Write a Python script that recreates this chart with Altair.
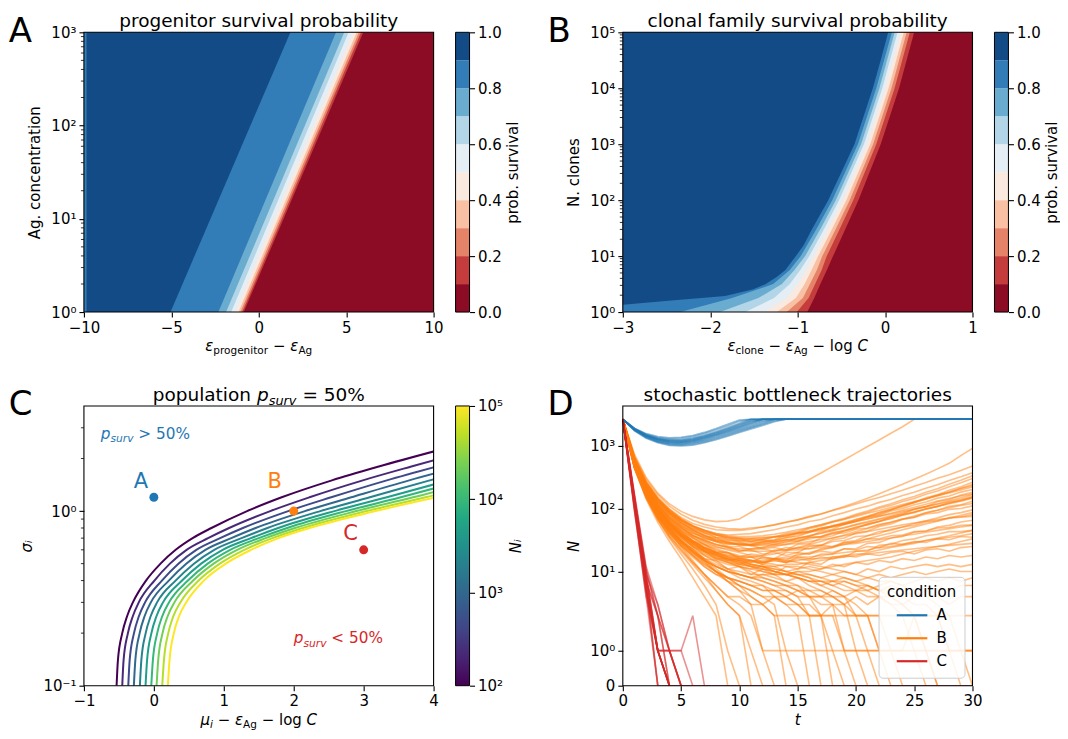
import altair as alt
import pandas as pd

FONT = "DejaVu Sans"
W, H = 350, 280
CB_GAP, CB_W, CB_W_C = 22, 14, 14
ONE = pd.DataFrame({"k": [0]})

# ---------------- colours ----------------
RDBU_BANDS = ["#8c0c25", "#c43c3c", "#e58368", "#f9c0a4", "#fae9df",
              "#e4eef4", "#b2d5e7", "#6aacd0", "#327cb7", "#134b86"]
VIRIDIS_STOPS = ["#440154", "#482475", "#414487", "#355f8d", "#2a788e", "#21918c",
                 "#22a884", "#44bf70", "#7ad151", "#bddf26", "#fde725"]
VIRIDIS_OFFSETS = [0.0, 0.1, 0.2, 0.3, 0.4, 0.5, 0.6, 0.7, 0.8, 0.9, 1.0]
CURVE_COLORS = ["#440154", "#482878", "#3e4a89", "#31688e", "#26828e",
                "#1f9e89", "#35b779", "#6ece58", "#b5de2b", "#fde725"]
COND = ["A", "B", "C"]
COND_COLORS = ["#1f77b4", "#ff7f0e", "#d62728"]

# ---------------- colour bar levels ----------------
CB_LO = [0.0, 0.1, 0.2, 0.3, 0.4, 0.5, 0.6, 0.7, 0.8, 0.9]
CB_HI = [0.1, 0.2, 0.3, 0.4, 0.5, 0.6, 0.7, 0.8, 0.9, 1.0]
CB_TICKS = [0.0, 0.2, 0.4, 0.6, 0.8, 1.0]

# ---------------- panel A: contour boundaries (straight in x vs log C) ----------------
A_LEVELS = [0.1, 0.2, 0.3, 0.4, 0.5, 0.6, 0.7, 0.8, 0.9]
A_CONC = [1, 1000]
A_X_LOW = [-0.86, -0.95, -1.05, -1.16, -1.34, -1.58, -1.87, -2.31, -5.05]
A_X_HIGH = [5.98, 5.85, 5.73, 5.60, 5.41, 5.14, 4.89, 4.42, 1.81]
A_STRIP_X = -9.85
A_MINOR = [2, 3, 4, 5, 6, 7, 8, 9, 20, 30, 40, 50, 60, 70, 80, 90,
           200, 300, 400, 500, 600, 700, 800, 900]

# ---------------- panel B: contour boundaries (x at log10 N) ----------------
B_LOGN = [0, 0.25, 0.5, 0.75, 1.0, 1.5, 2, 3, 4, 5]
B_X = {
    0.1: [-0.89, -0.81, -0.74, -0.665, -0.595, -0.45, -0.305, -0.05, 0.16, 0.333],
    0.2: [-1.01, -0.875, -0.80, -0.725, -0.667, -0.515, -0.364, -0.101, 0.109, 0.283],
    0.3: [-1.126, -0.94, -0.86, -0.78, -0.718, -0.56, -0.405, -0.137, 0.073, 0.247],
    0.4: [-1.24, -1.02, -0.92, -0.84, -0.765, -0.602, -0.443, -0.17, 0.04, 0.214],
    0.5: [-1.385, -1.12, -0.995, -0.90, -0.816, -0.648, -0.484, -0.206, 0.004, 0.179],
    0.6: [-1.60, -1.27, -1.09, -0.97, -0.867, -0.693, -0.526, -0.242, -0.032, 0.143],
    0.7: [-1.89, -1.45, -1.18, -1.036, -0.914, -0.735, -0.564, -0.275, -0.065, 0.11],
    0.8: [-2.345, -1.75, -1.28, -1.09, -0.965, -0.78, -0.605, -0.311, -0.101, 0.078],
}
B09_LOGN = [0, 0.13, 0.2, 0.287, 0.406, 0.5, 0.627, 0.75, 1.0, 1.2, 1.5, 2, 2.5, 3, 3.5, 4, 4.5, 5]
B09_X = [-3, -3, -2.48, -1.83, -1.507, -1.365, -1.24, -1.14, -1.02, -0.93, -0.83,
         -0.65, -0.50, -0.35, -0.245, -0.14, -0.05, 0.036]
B_MINOR = [2, 3, 4, 5, 6, 7, 8, 9, 20, 30, 40, 50, 60, 70, 80, 90,
           200, 300, 400, 500, 600, 700, 800, 900, 2000, 3000, 4000, 5000, 6000, 7000, 8000, 9000,
           20000, 30000, 40000, 50000, 60000, 70000, 80000, 90000]

# ---------------- panel C: p_surv = 50% curves ----------------
C_N_LEVELS = [100, 215, 464, 1000, 2154, 4642, 10000, 21544, 46416, 100000]
C_SIGMA = [0.1, 0.14, 0.2, 0.25, 0.3, 0.4, 0.5, 0.6, 0.7, 0.8, 1.0, 1.2, 1.5, 1.8, 2.2, 2.6]
C_X = [
    [-0.533, -0.514, -0.452, -0.383, -0.30, -0.112, 0.095, 0.312, 0.554, 0.823, 1.333, 1.828, 2.546, 3.217, 4.01, 4.7],
    [-0.452, -0.433, -0.371, -0.301, -0.216, 0.008, 0.230, 0.468, 0.775, 1.076, 1.664, 2.226, 2.988, 3.682, 4.478],
    [-0.366, -0.346, -0.284, -0.214, -0.126, 0.115, 0.351, 0.607, 0.947, 1.273, 1.921, 2.536, 3.331, 4.044],
    [-0.286, -0.265, -0.203, -0.133, -0.043, 0.214, 0.463, 0.737, 1.107, 1.455, 2.160, 2.823, 3.650, 4.379],
    [-0.200, -0.179, -0.117, -0.046, 0.046, 0.311, 0.573, 0.864, 1.254, 1.624, 2.380, 3.089, 3.945, 4.689],
    [-0.119, -0.097, -0.035, 0.037, 0.131, 0.403, 0.676, 0.984, 1.389, 1.778, 2.582, 3.332, 4.215],
    [-0.037, -0.014, 0.048, 0.120, 0.216, 0.487, 0.770, 1.092, 1.500, 1.905, 2.747, 3.531, 4.436],
    [0.039, 0.062, 0.124, 0.197, 0.294, 0.562, 0.855, 1.191, 1.598, 2.017, 2.894, 3.708, 4.632],
    [0.120, 0.144, 0.206, 0.279, 0.379, 0.641, 0.944, 1.293, 1.696, 2.130, 3.041, 3.885, 4.828],
    [0.2, 0.224, 0.286, 0.36, 0.462, 0.715, 1.028, 1.39, 1.782, 2.228, 3.17, 4.04],
]
C_PT_X = [0, 2, 3]
C_PT_Y = [1.2, 1.0, 0.6]
C_PT_LABEL = ["A", "B", "C"]
C_LBL_DX = [-13, -19, -13]
C_LBL_DY = [-15, -29, -16]
C_MINOR = [0.2, 0.3, 0.4, 0.5, 0.6, 0.7, 0.8, 0.9, 2, 3]
C_NOTE_HI = (-0.76, 2.59)
C_NOTE_LO = (2.0, 0.175)

# ---------------- panel D: trajectories ----------------
D_A = [
    [2600,1700,1300,1100,1000,980,1010,1100,1230,1400,1600,1830,2080,2370,2600,2600,2600,2600,2600,2600,2600,2600,2600,2600,2600,2600,2600,2600,2600,2600,2600],
    [2600,1750,1350,1150,1060,1040,1080,1180,1320,1500,1720,1970,2250,2550,2600,2600,2600,2600,2600,2600,2600,2600,2600,2600,2600,2600,2600,2600,2600,2600,2600],
    [2600,1780,1400,1200,1110,1100,1150,1260,1420,1620,1860,2140,2450,2600,2600,2600,2600,2600,2600,2600,2600,2600,2600,2600,2600,2600,2600,2600,2600,2600,2600],
    [2600,1800,1420,1230,1150,1140,1200,1320,1490,1710,1980,2290,2600,2600,2600,2600,2600,2600,2600,2600,2600,2600,2600,2600,2600,2600,2600,2600,2600,2600,2600],
    [2600,1820,1450,1270,1190,1190,1250,1380,1570,1810,2100,2440,2600,2600,2600,2600,2600,2600,2600,2600,2600,2600,2600,2600,2600,2600,2600,2600,2600,2600,2600],
    [2600,1840,1480,1300,1230,1240,1310,1450,1660,1920,2240,2600,2600,2600,2600,2600,2600,2600,2600,2600,2600,2600,2600,2600,2600,2600,2600,2600,2600,2600,2600],
    [2600,1860,1510,1340,1280,1300,1380,1540,1770,2060,2410,2600,2600,2600,2600,2600,2600,2600,2600,2600,2600,2600,2600,2600,2600,2600,2600,2600,2600,2600,2600],
    [2600,1810,1440,1250,1170,1160,1220,1350,1530,1760,2040,2370,2600,2600,2600,2600,2600,2600,2600,2600,2600,2600,2600,2600,2600,2600,2600,2600,2600,2600,2600],
    [2600,1760,1370,1170,1080,1070,1110,1220,1370,1560,1790,2050,2350,2600,2600,2600,2600,2600,2600,2600,2600,2600,2600,2600,2600,2600,2600,2600,2600,2600,2600],
    [2600,1880,1540,1380,1320,1350,1440,1610,1850,2160,2530,2600,2600,2600,2600,2600,2600,2600,2600,2600,2600,2600,2600,2600,2600,2600,2600,2600,2600,2600,2600],
    [2600,1730,1330,1130,1030,1010,1050,1140,1280,1450,1660,1900,2170,2470,2600,2600,2600,2600,2600,2600,2600,2600,2600,2600,2600,2600,2600,2600,2600,2600,2600],
    [2600,1790,1410,1220,1130,1120,1170,1290,1460,1670,1920,2220,2560,2600,2600,2600,2600,2600,2600,2600,2600,2600,2600,2600,2600,2600,2600,2600,2600,2600,2600],
    [2600,1830,1460,1280,1210,1210,1270,1410,1610,1860,2160,2510,2600,2600,2600,2600,2600,2600,2600,2600,2600,2600,2600,2600,2600,2600,2600,2600,2600,2600,2600],
]
D_B = [
    [2600,720,310,175,118,90,75,66,62,63,68,87,110,140,178,226,288,366,466,593,755,960,1220,1560,1980,2600,2600,2600,2600,2600,2600],
    [2600,680,292,166,109,81,65,56,51,48,47,49,51,55,60,66,73,82,94,108,125,146,172,204,243,290,350,425,520,690,900],
    [2600,650,272,151,99,72,58,51,46,45,45,47,51,55,61,66,75,82,93,104,118,134,149,171,194,226,259,301,344,402,470],
    [2600,602,251,139,91,66,53,45,40,38,39,40,43,46,51,55,62,67,77,86,98,109,125,139,161,181,209,238,279,318,370],
    [2600,583,236,129,83,58,45,37,33,31,31,30,33,35,40,43,50,55,63,70,81,91,106,119,138,155,181,205,242,280,330],
    [2600,561,224,121,75,54,41,35,30,27,28,27,30,32,38,41,48,53,61,67,78,87,101,112,129,144,168,190,222,255,300],
    [2600,642,263,144,96,69,53,45,38,35,33,31,32,31,35,36,42,45,53,57,67,74,86,96,112,125,148,165,195,222,260],
    [2600,538,209,111,67,47,35,29,24,23,21,23,24,27,29,34,36,43,47,56,62,73,81,95,107,125,141,163,181,208,230],
    [2600,612,246,136,87,64,48,42,35,34,31,33,32,36,36,41,43,49,52,59,64,73,79,91,100,115,127,146,158,182,200],
    [2600,519,198,103,61,43,30,26,20,20,17,19,18,22,22,27,28,34,37,44,48,57,62,74,82,98,107,128,139,163,180],
    [2600,592,239,129,85,59,47,37,34,29,29,26,28,27,30,30,35,36,42,44,51,55,63,69,79,86,99,108,124,133,150],
    [2600,498,191,94,58,37,29,21,19,15,16,14,17,16,20,20,25,26,32,34,41,44,52,57,67,73,86,94,108,115,130],
    [2600,631,256,141,93,65,52,41,38,33,33,30,31,29,32,31,35,35,40,41,47,49,56,60,68,72,82,86,97,100,110],
    [2600,481,177,89,51,36,25,21,16,16,13,15,13,16,15,19,19,23,24,29,31,37,40,47,51,58,64,71,80,86,95],
    [2600,569,229,123,80,54,43,33,30,25,25,22,23,21,24,23,26,26,30,31,36,37,43,45,51,54,61,64,72,74,80],
    [2600,532,204,107,63,44,31,27,21,20,16,17,14,16,14,17,16,19,19,23,23,28,29,34,36,42,44,51,54,61,65],
    [2600,601,241,133,84,61,45,38,31,30,26,26,23,24,22,24,23,26,25,29,29,33,33,37,38,43,44,49,50,54,55],
    [2600,462,166,79,47,29,23,16,15,11,12,9,11,9,12,11,14,13,17,17,21,21,26,27,31,33,37,39,43,43,45],
    [2600,551,214,116,71,51,37,32,26,25,21,22,19,20,18,20,19,21,20,23,22,25,24,28,27,30,29,33,32,36,35],
    [2600,560,220,117,74,52,40,34,30,28,27,27,29,31,34,38,42,48,53,60,67,76,86,97,110,125,142,160,183,210,240],
    [2600,610,250,138,90,64,51,43,38,35,34,33,34,35,37,40,43,47,51,56,62,68,76,84,94,105,117,131,144,158,170],
    [2600,520,196,100,60,40,30,24,20,18,17,17,18,19,21,24,27,30,34,38,43,48,54,61,68,76,85,94,103,112,120],
    [2600,590,236,128,82,58,45,37,32,29,27,26,26,26,27,28,30,32,34,37,40,43,47,51,55,59,63,67,70,73,75],
    [2600,500,188,94,55,37,27,21,18,16,15,14,14,15,14,15,16,16,17,18,19,19,20,21,22,23,24,25,26,27,28],
    [2600,575,228,122,77,55,42,35,31,28,27,26,27,29,31,33,37,40,45,49,55,60,67,73,81,89,98,108,119,131,145],
    [2600,545,212,112,70,49,37,31,27,24,23,23,24,25,27,30,33,36,40,45,50,56,62,70,78,87,97,108,121,135,150],
    [2600,625,255,140,91,66,52,44,39,36,34,34,35,36,38,41,44,48,52,57,63,69,75,82,90,98,107,117,128,140,155],
    [2600,505,192,96,57,38,28,22,18,16,15,15,15,16,17,18,20,22,24,27,30,33,37,41,46,51,57,63,70,78,86],
    [2600,560,218,115,72,50,38,31,27,24,22,21,21,21,22,22,23,24,25,27,28,30,32,34,37,39,42,45,48,51,54],
    [2600,485,180,89,52,34,25,19,16,14,13,12,12,12,13,13,14,15,16,17,18,20,22,24,26,28,31,34,37,41,45],
    [2600,598,242,132,85,61,48,40,35,32,30,29,29,30,32,34,37,41,45,50,56,62,69,77,86,96,107,119,133,148,165],
    [2600,530,205,107,66,45,34,27,23,20,18,17,16,16,16,17,17,18,19,20,21,22,24,25,27,29,31,33,35,37,40],
    [2600,470,170,82,47,30,21,16,13,11,10,9,9,9,9,10,10,11,12,13,14,15,16,17,19,21,23,25,27,30,33],
    [2600,640,262,144,95,68,54,45,40,37,36,36,37,39,42,46,50,55,61,68,75,84,93,104,116,129,143,159,177,197,220],
    [2600,510,195,98,58,39,29,23,19,17,16,15,14,15,14,16,15,17,16,18,17,19,18,20,21,19,22,23,21,24,25],
    [2600,470,172,84,49,32,23,18,15,13,12,11,12,11,10,11,12,11,13,12,14,13,15,14,16,15,17,16,18,17,18],
    [2600,490,180,90,54,36,27,21,17,15,14,12,11,10,9,10,9,8,9,10,9,11,10,12,11,12,13,12,13,12,13],
    [2600,450,160,76,43,28,20,15,12,10,9,8,9,8,7,8,7,6,7,8,7,8,9,8,9,10,9,10,11,10,10],
    [2600,530,205,105,63,42,31,24,20,17,15,13,12,10,9,8,7,7,6,7,6,5,6,7,6,7,8,7,8,7,8],
    [2600,440,155,72,40,26,18,13,10,8,7,6,5,5,4,5,4,4,5,4,5,6,5,6,5,4,5,6,5,6,6],
    [2600,500,188,93,55,37,27,21,17,14,12,10,8,7,6,5,5,4,4,3,4,3,4,4,3,4,5,4,3,4,4],
    [2600,460,165,78,44,28,19,14,10,7,5,3,1,1,1,1,1,1,1,1,1,1,1,1,1,1,1,1,1,1,1],
    [2600,480,175,85,49,31,21,15,11,8,6,4,3,2,2,2,2,2,2,2,2,2,2,2,2,2,2,2,2,2,2],
    [2600,440,150,68,37,22,14,9,6,4,4,3,3,4,4,3,2,2,3,2,2,2,1,1,1,2,2,2,1,1,1],
    [2600,470,170,80,46,30,20,14,10,8,6,5,4,4,3,3,2,2,2,1,1,1,1,1,1,1,1,1,1,1,1],
    [2600,430,140,60,30,16,8,4,2,0],
    [2600,450,150,66,34,19,11,6,3,1,0],
    [2600,470,165,76,42,25,15,9,5,3,2,0],
    [2600,440,152,69,37,23,14,9,6,4,3,2,1,0],
    [2600,490,178,86,50,32,22,15,10,7,5,4,3,2,0],
    [2600,460,163,77,43,27,18,12,9,7,6,5,4,3,1,0],
    [2600,500,185,91,53,35,25,18,14,11,9,8,7,6,5,4,2,0],
    [2600,520,198,100,60,40,30,23,19,16,14,12,10,9,7,6,4,2,0],
    [2600,470,168,80,46,30,21,15,12,10,9,8,7,6,6,5,4,4,3,1,0],
    [2600,540,210,110,67,45,34,27,22,19,17,15,13,12,10,9,8,6,5,4,2,1,0],
    [2600,450,158,73,40,25,17,12,9,8,7,6,6,5,5,4,4,3,3,3,2,2,2,1,0],
    [2600,510,192,96,57,38,28,22,18,15,13,12,11,10,9,9,8,7,7,6,5,5,4,3,3,2,1,0],
    [2600,480,172,83,48,31,22,16,12,10,8,7,6,4,3,2,0],
    [2600,455,160,75,41,26,18,13,10,8,7,6,5,5,4,3,3,2,1,0],
    [2600,525,200,102,61,41,31,24,20,17,15,13,12,10,9,8,6,5,4,3,1,0],
    [2600,465,166,79,45,29,20,15,12,10,9,8,8,7,6,6,5,5,4,4,3,2,1,0],
    [2600,495,183,90,53,35,25,20,16,14,12,11,10,9,9,8,7,7,6,5,5,4,4,3,2,1,0],
    [2600,515,195,98,58,39,29,23,19,16,14,13,12,11,10,9,9,8,7,7,6,6,5,5,4,3,3,2,1,0],
    [2600,445,150,67,35,21,13,8,5,3,2,1,0],
    [2600,515,196,99,59,40,30,24,20,18,16,15,14,13,12,12,11,10,9,8,7,6,5,4,3,2,1,0],
    [2600,555,216,114,71,49,37,30,25,22,20,18,17,16,15,14,13,12,11,10,9,8,7,7,6,5,4,3,2,1,0],
]
D_C = [
    [2600,130,6,0,0,0,0,0,0,0,0,0,0,0,0,0,0,0,0,0,0,0,0,0,0,0,0,0,0,0,0],
    [2600,110,5,1,0],
    [2600,150,9,1,0],
    [2600,120,7,2,0],
    [2600,100,4,0],
    [2600,140,8,1,1,0],
    [2600,160,10,2,1,0],
    [2600,90,5,1,0],
    [2600,125,6,1,0],
    [2600,135,7,2,1,0],
    [2600,115,9,3,1,0],
    [2600,105,6,0],
    [2600,145,8,1,0],
    [2600,170,12,3,1,1,0],
    [2600,120,5,1,1,1,2,0],
    [2600,95,4,1,0],
    [2600,130,7,1,0],
    [2600,155,11,2,0],
    [2600,110,6,1,1,0],
    [2600,140,10,1,0,0,0,0,0,0,0,0,0,0,0,0,0,0,0,0,0,0,0,0,0,0,0,0,0,0,0],
]
D_TICK_POS = [0.0, 0.5555556, 1.8101, 2.8101, 3.8101]

# ---------------- helpers ----------------
EM = {" ": 0.318, "ε": 0.54, "μ": 0.635, "σ": 0.635, "−": 0.838, "=": 0.838, ">": 0.838,
      "<": 0.838, "A": 0.684, "g": 0.635, "p": 0.635, "r": 0.411, "o": 0.612, "e": 0.615,
      "n": 0.634, "i": 0.278, "t": 0.392, "c": 0.55, "l": 0.278, "C": 0.698, "s": 0.521,
      "u": 0.634, "v": 0.592, "a": 0.613, "b": 0.635, "y": 0.592, "%": 0.95, "5": 0.636,
      "0": 0.636}


def twidth(s, size):
    return sum(EM.get(c, 0.62) for c in s) * size


def text_px(txt, x, y, size, align="left", italic=False, color="black", baseline="alphabetic"):
    return alt.Chart(ONE).mark_text(
        text=txt, fontSize=size, align=align, baseline=baseline, font=FONT, color=color,
        fontStyle="italic" if italic else "normal").encode(x=alt.value(x), y=alt.value(y))


def rich_px(segs, x, y, color="black"):
    total = sum(twidth(t, s) for t, s, it, dy in segs)
    cur = x - total / 2
    out = []
    for t, s, it, dy in segs:
        body = t.strip(" ")
        lead = (len(t) - len(t.lstrip(" "))) * EM[" "] * s
        if body:
            out.append(text_px(body, cur + lead, y + dy, s, italic=it, color=color))
        cur += twidth(t, s)
    return out


def rich_data(segs, xd, yd, xs, xa, ys, ya, color):
    cur = 0.0
    out = []
    for t, s, it, dy in segs:
        body = t.strip(" ")
        lead = (len(t) - len(t.lstrip(" "))) * EM[" "] * s
        if body:
            out.append(alt.Chart(ONE).mark_text(
                text=body, fontSize=s, align="left", baseline="alphabetic", font=FONT, color=color,
                fontStyle="italic" if it else "normal", dx=cur + lead, dy=dy).encode(
                x=alt.X(datum=xd, type="quantitative", scale=xs, axis=xa),
                y=alt.Y(datum=yd, type="quantitative", scale=ys, axis=ya)))
        cur += twidth(t, s)
    return out


def value_rect(x0, x1, y0, y1, **mk):
    return alt.Chart(ONE).mark_rect(**mk).encode(
        x=alt.value(x0), x2=alt.value(x1), y=alt.value(y0), y2=alt.value(y1))


def frame_layer():
    return value_rect(0, W, 0, H, filled=False, color="black", strokeWidth=1.1)


def band_area(df, color, xs, xa, ys, ya):
    return alt.Chart(df).mark_area(orient="horizontal", color=color, clip=True).encode(
        y=alt.Y("N:Q", scale=ys, axis=ya),
        x=alt.X("x:Q", scale=xs, axis=xa, stack=None),
        x2=alt.value(0))


def minor_rules(vals, ys, ya):
    return alt.Chart(pd.DataFrame({"v": vals})).mark_rule(color="black", strokeWidth=0.8).encode(
        y=alt.Y("v:Q", scale=ys, axis=ya), x=alt.value(-3), x2=alt.value(0))


LOG_LABEL = ("datum.value < 0.5 ? '10⁻¹' : datum.value < 5 ? '10⁰' : datum.value < 50 ? '10¹' : "
             "datum.value < 500 ? '10²' : datum.value < 5000 ? '10³' : datum.value < 50000 ? '10⁴' : '10⁵'")


def prob_colorbar():
    cs = alt.Scale(domain=[0, 1], nice=False, zero=False)
    ca = alt.Axis(orient="right", offset=CB_GAP + CB_W, values=CB_TICKS, format=".1f",
                  title="prob. survival", titleAngle=270, titleBaseline="top", titlePadding=4)
    layers = []
    for i in range(len(CB_LO)):
        layers.append(alt.Chart(pd.DataFrame({"lo": [CB_LO[i]], "hi": [CB_HI[i]]})).mark_rect(
            color=RDBU_BANDS[i]).encode(
            x=alt.value(W + CB_GAP), x2=alt.value(W + CB_GAP + CB_W),
            y=alt.Y("lo:Q", scale=cs, axis=ca), y2="hi:Q"))
    layers.append(value_rect(W + CB_GAP, W + CB_GAP + CB_W, 0, H, filled=False, color="black", strokeWidth=1))
    return alt.layer(*layers)


TITLE_Y = -5.2
LETTER_Y = 9.2


def letter(txt):
    return text_px(txt, -75.3, LETTER_Y, 34)


def header(ltr, title):
    return [letter(ltr), text_px(title, W / 2, TITLE_Y, 18.5, align="center")]


SUB = 10.5
SUBDY = 3
XT = H + 39

# ================= Panel A =================
A_xs = alt.Scale(domain=[-10, 10], nice=False, zero=False)
A_ys = alt.Scale(type="log", domain=[1, 1000], nice=False)
A_xa = alt.Axis(values=[-10, -5, 0, 5, 10], format="d", title=None)
A_ya = alt.Axis(values=[1, 10, 100, 1000], labelExpr=LOG_LABEL, title="Ag. concentration", titlePadding=8)

a_layers = [value_rect(0, W, 0, H, color=RDBU_BANDS[0])]
for i in range(len(A_LEVELS)):
    a_layers.append(band_area(pd.DataFrame({"N": A_CONC, "x": [A_X_LOW[i], A_X_HIGH[i]]}),
                              RDBU_BANDS[i + 1], A_xs, A_xa, A_ys, A_ya))
a_layers.append(band_area(pd.DataFrame({"N": A_CONC, "x": [A_STRIP_X, A_STRIP_X]}),
                          RDBU_BANDS[8], A_xs, A_xa, A_ys, A_ya))
a_layers.append(minor_rules(A_MINOR, A_ys, A_ya))
a_layers.append(frame_layer())
panel_A = alt.layer(
    alt.layer(*a_layers), prob_colorbar(),
    *header("A", "progenitor survival probability"),
    *rich_px([("ε", 15, True, 0), ("progenitor", SUB, False, SUBDY), (" − ", 15, False, 0),
              ("ε", 15, True, 0), ("Ag", SUB, False, SUBDY)], W / 2, XT),
).resolve_scale(y="independent").properties(width=W, height=H)

# ================= Panel B =================
B_xs = alt.Scale(domain=[-3, 1], nice=False, zero=False)
B_ys = alt.Scale(type="log", domain=[1, 100000], nice=False)
B_xa = alt.Axis(values=[-3, -2, -1, 0, 1], format="d", title=None)
B_ya = alt.Axis(values=[1, 10, 100, 1000, 10000, 100000], labelExpr=LOG_LABEL, title="N. clones", titlePadding=8)

b_layers = [value_rect(0, W, 0, H, color=RDBU_BANDS[0])]
for i, lev in enumerate([0.1, 0.2, 0.3, 0.4, 0.5, 0.6, 0.7, 0.8]):
    df = pd.DataFrame({"N": [10 ** e for e in B_LOGN], "x": B_X[lev]})
    b_layers.append(band_area(df, RDBU_BANDS[i + 1], B_xs, B_xa, B_ys, B_ya))
b_layers.append(band_area(pd.DataFrame({"N": [10 ** e for e in B09_LOGN], "x": B09_X}),
                          RDBU_BANDS[9], B_xs, B_xa, B_ys, B_ya))
b_layers.append(minor_rules(B_MINOR, B_ys, B_ya))
b_layers.append(frame_layer())
panel_B = alt.layer(
    alt.layer(*b_layers), prob_colorbar(),
    *header("B", "clonal family survival probability"),
    *rich_px([("ε", 15, True, 0), ("clone", SUB, False, SUBDY), (" − ", 15, False, 0),
              ("ε", 15, True, 0), ("Ag", SUB, False, SUBDY), (" − ", 15, False, 0),
              ("log", 15, False, 0), (" C", 15, True, 0)], W / 2, XT),
).resolve_scale(y="independent").properties(width=W, height=H)

# ================= Panel C =================
C_xs = alt.Scale(domain=[-1, 4], nice=False, zero=False)
C_ys = alt.Scale(type="log", domain=[0.1, 4.0], nice=False)
C_xa = alt.Axis(values=[-1, 0, 1, 2, 3, 4], format="d", title=None)
C_ya = alt.Axis(values=[0.1, 1], labelExpr=LOG_LABEL, title="σᵢ", titleFontStyle="italic", titlePadding=8)

c_layers = []
for i, xs in enumerate(C_X):
    df = pd.DataFrame({"x": xs, "sigma": C_SIGMA[:len(xs)]})
    c_layers.append(alt.Chart(df).mark_line(color=CURVE_COLORS[i], strokeWidth=2, clip=True,
                                            interpolate="monotone").encode(
        x=alt.X("x:Q", scale=C_xs, axis=C_xa), y=alt.Y("sigma:Q", scale=C_ys, axis=C_ya),
        order="sigma:Q"))
for i in range(3):
    pdf = pd.DataFrame({"x": [C_PT_X[i]], "y": [C_PT_Y[i]]})
    c_layers.append(alt.Chart(pdf).mark_circle(size=80, color=COND_COLORS[i], opacity=1).encode(
        x=alt.X("x:Q", scale=C_xs, axis=C_xa), y=alt.Y("y:Q", scale=C_ys, axis=C_ya)))
    c_layers.append(alt.Chart(pdf).mark_text(text=C_PT_LABEL[i], fontSize=21, font=FONT, color=COND_COLORS[i],
                                             dx=C_LBL_DX[i], dy=C_LBL_DY[i], align="center",
                                             baseline="middle").encode(
        x=alt.X("x:Q", scale=C_xs, axis=C_xa), y=alt.Y("y:Q", scale=C_ys, axis=C_ya)))
c_layers.append(minor_rules(C_MINOR, C_ys, C_ya))
c_layers += rich_data([("p", 15.3, True, 0), ("surv", 10.7, True, 3.5), (" > 50%", 15.3, False, 0)],
                      C_NOTE_HI[0], C_NOTE_HI[1], C_xs, C_xa, C_ys, C_ya, COND_COLORS[0])
c_layers += rich_data([("p", 15.3, True, 0), ("surv", 10.7, True, 3.5), (" < 50%", 15.3, False, 0)],
                      C_NOTE_LO[0], C_NOTE_LO[1], C_xs, C_xa, C_ys, C_ya, COND_COLORS[2])
c_layers.append(frame_layer())

cc_s = alt.Scale(type="log", domain=[100, 100000], nice=False)
cc_a = alt.Axis(orient="right", offset=CB_GAP + CB_W_C, values=[100, 1000, 10000, 100000], labelExpr=LOG_LABEL,
                title="Nᵢ", titleFontStyle="italic", titleAngle=270, titleBaseline="top", titlePadding=6)
grad = alt.LinearGradient(gradient="linear", x1=0, x2=0, y1=1, y2=0,
                          stops=[alt.GradientStop(offset=o, color=c) for o, c in zip(VIRIDIS_OFFSETS, VIRIDIS_STOPS)])
c_cbar = alt.layer(
    alt.Chart(pd.DataFrame({"lo": [100], "hi": [100000]})).mark_rect(fill=grad).encode(
        x=alt.value(W + CB_GAP), x2=alt.value(W + CB_GAP + CB_W_C),
        y=alt.Y("lo:Q", scale=cc_s, axis=cc_a), y2="hi:Q"),
    value_rect(W + CB_GAP, W + CB_GAP + CB_W_C, 0, H, filled=False, color="black", strokeWidth=1),
)
panel_C = alt.layer(
    alt.layer(*c_layers), c_cbar,
    letter("C"),
    *rich_px([("population ", 18.5, False, 0), ("p", 18.5, True, 0), ("surv", 12.9, True, 4),
              (" = 50%", 18.5, False, 0)], W / 2, TITLE_Y),
    *rich_px([("μ", 15, True, 0), ("i", SUB, True, SUBDY), (" − ", 15, False, 0),
              ("ε", 15, True, 0), ("Ag", SUB, False, SUBDY), (" − ", 15, False, 0),
              ("log", 15, False, 0), (" C", 15, True, 0)], W / 2, XT),
).resolve_scale(y="independent").properties(width=W, height=H)

# ================= Panel D =================
D_xs = alt.Scale(domain=[0, 30], nice=False, zero=False)
D_ys = alt.Scale(domain=[0, 4.436], nice=False, zero=False)
D_xa = alt.Axis(values=[0, 5, 10, 15, 20, 25, 30], format="d", title=None)
D_ya = alt.Axis(values=D_TICK_POS, title="N", titleFontStyle="italic", titlePadding=8,
                labelExpr="datum.value < 0.3 ? '0' : datum.value < 1 ? '10⁰' : datum.value < 2.3 ? '10¹' : datum.value < 3.3 ? '10²' : '10³'")
D_color = alt.Color("cond:N", scale=alt.Scale(domain=COND, range=COND_COLORS),
                    legend=alt.Legend(title="condition", orient="bottom-right", offset=8,
                                      symbolType="M-1.7,0L1.7,0", symbolStrokeWidth=2.2, symbolSize=324,
                                      symbolOffset=5, symbolOpacity=1,
                                      fillColor="rgba(255,255,255,0.85)",
                                      strokeColor="#cccccc", cornerRadius=4, padding=8,
                                      rowPadding=4, titleAnchor="middle", titlePadding=5,
                                      labelOffset=14))


def traj_layer(trajs, cond):
    rows = []
    for k, tr in enumerate(trajs):
        for t, n in enumerate(tr):
            rows.append({"t": t, "N": n, "id": f"{cond}{k}", "cond": cond})
    return alt.Chart(pd.DataFrame(rows)).transform_calculate(
        ys="datum.N <= 2 ? datum.N * 0.5555556 : 1.1111111 + log(datum.N / 2) / LN10"
    ).mark_line(strokeWidth=1.6, opacity=0.5, clip=True).encode(
        x=alt.X("t:Q", scale=D_xs, axis=D_xa),
        y=alt.Y("ys:Q", scale=D_ys, axis=D_ya),
        detail="id:N", color=D_color)


panel_D = alt.layer(
    traj_layer(D_B, "B"), traj_layer(D_A, "A"), traj_layer(D_C, "C"), frame_layer(),
    *header("D", "stochastic bottleneck trajectories"),
    *rich_px([("t", 15, True, 0)], W / 2, XT),
).properties(width=W, height=H)

chart = alt.concat(
    panel_A, panel_B, panel_C, panel_D, columns=2,
    spacing={"row": 94, "column": 189.4}, bounds="flush",
).resolve_scale(color="independent").resolve_legend(color="independent").properties(
    padding={"left": 0, "top": 3, "right": 0, "bottom": 0}
).configure(font=FONT).configure_axis(
    labelFont=FONT, titleFont=FONT, labelFontSize=15, titleFontSize=15, labelColor="black",
    titleColor="black", tickColor="black", tickWidth=1.1, tickSize=5, labelPadding=3,
    domain=False, grid=False, titleFontWeight="normal", labelFlush=False, labelOverlap=False,
).configure_view(stroke=None).configure_legend(
    labelFont=FONT, titleFont=FONT, labelFontSize=15, titleFontSize=15, titleFontWeight="normal",
    labelColor="black", titleColor="black",
)

chart.save("out.html", embed_options={"renderer": "svg", "actions": False})
